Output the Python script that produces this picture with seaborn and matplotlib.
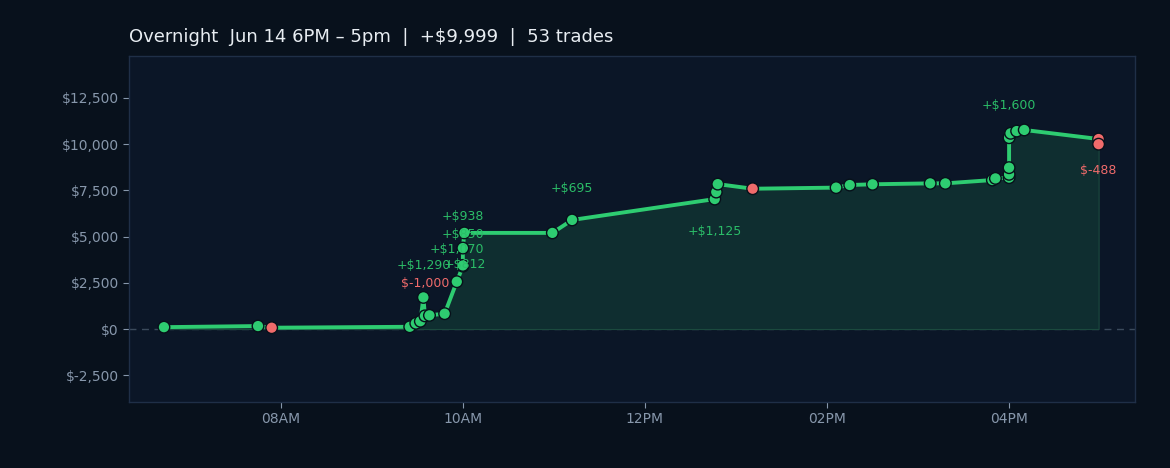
import pandas as pd
import matplotlib
matplotlib.use("Agg")
import matplotlib.pyplot as plt
import matplotlib.dates as mdates
from matplotlib.ticker import FuncFormatter
import seaborn as sns

# trade times and cumulative pnl
times = ["06:43", "07:45", "07:54", "09:25", "09:29", "09:32", "09:34", "09:35",
         "09:38", "09:48", "09:56", "10:00", "10:00", "10:00", "10:01", "10:59",
         "11:12", "12:46", "12:47", "12:48", "13:11", "14:06", "14:15", "14:30",
         "15:08", "15:18", "15:49", "15:51", "16:00", "16:00", "16:00", "16:00",
         "16:01", "16:05", "16:10", "16:59", "16:59"]
cum_pnl = [100, 160, 70, 120, 310, 420, 1710, 710,
           740, 830, 2560, 3400, 3440, 4380, 5200, 5200,
           5900, 7030, 7410, 7840, 7590, 7650, 7790, 7830,
           7880, 7880, 8060, 8150, 8190, 8370, 8730, 10350,
           10590, 10710, 10770, 10280, 9999]
outcome = ["win", "win", "loss", "win", "win", "win", "win", "win",
           "win", "win", "win", "win", "win", "win", "win", "win",
           "win", "win", "win", "win", "loss", "win", "win", "win",
           "win", "win", "win", "win", "win", "win", "win", "win",
           "win", "win", "win", "loss", "loss"]

# big-trade labels: index into the trades, text, above(1)/below(-1)
note_idx = [6, 7, 10, 11, 13, 14, 16, 17, 31, 35]
note_text = ["+$1,290", "$-1,000", "+$1,070", "+$850", "+$938", "+$812",
             "+$695", "+$1,125", "+$1,600", "$-488"]
note_side = [1, 1, 1, 1, 1, -1, 1, -1, 1, -1]

yticks = [-2500, 0, 2500, 5000, 7500, 10000, 12500]

df = pd.DataFrame({
    "time": pd.to_datetime(["2024-06-14 " + t for t in times]),
    "cum": cum_pnl,
    "outcome": outcome,
})

bg = "#08111c"
panel = "#0b1627"
green = "#2ecc71"
red = "#f06b6b"

sns.set_style("dark")
fig = plt.figure(figsize=(11.7, 4.68), dpi=100, facecolor=bg)
ax = fig.add_axes([0.1103, 0.141, 0.8598, 0.7393])
ax.set_facecolor(panel)

ax.axhline(0, color="#3b4a5c", lw=1, ls=(0, (5, 4)), zorder=1)
ax.fill_between(df["time"], df["cum"], 0, color="#0f2e30", alpha=1, zorder=1.5,
                edgecolor="#1b4a3e", lw=0.8)
sns.lineplot(data=df, x="time", y="cum", color=green, lw=2.8, ax=ax, zorder=2,
             estimator=None, sort=False)
sns.scatterplot(data=df, x="time", y="cum", hue="outcome",
                palette={"win": green, "loss": red}, s=70,
                edgecolor="#07101a", linewidth=1.0, ax=ax, zorder=3, legend=False)

for i, txt, side in zip(note_idx, note_text, note_side):
    col = red if txt.startswith("$-") else "#2bbd68"
    ax.annotate(txt, (df["time"][i], df["cum"][i]), xytext=(0, 23 * side),
                textcoords="offset points", ha="center", va="center",
                fontsize=9, color=col, zorder=4)

ax.set_xlim(pd.Timestamp("2024-06-14 06:20"), pd.Timestamp("2024-06-14 17:23"))
ax.set_ylim(-3950, 14770)
ax.xaxis.set_major_locator(mdates.HourLocator(byhour=[8, 10, 12, 14, 16]))
ax.xaxis.set_major_formatter(mdates.DateFormatter("%I%p"))
ax.set_yticks(yticks)
ax.yaxis.set_major_formatter(FuncFormatter(lambda v, p: f"${v:,.0f}"))
ax.tick_params(colors="#8797ab", labelsize=10, length=4, width=0.8,
               bottom=True, left=True)
ax.set_xlabel("")
ax.set_ylabel("")
ax.grid(False)
for s in ax.spines.values():
    s.set_visible(True)
    s.set_color("#1f2f47")
    s.set_linewidth(1)

ax.set_title("Overnight  Jun 14 6PM \u2013 5pm  |  +$9,999  |  53 trades",
             loc="left", color="#e8edf2", fontsize=13, pad=10)

fig.savefig("out.png", dpi=100, facecolor=bg)
